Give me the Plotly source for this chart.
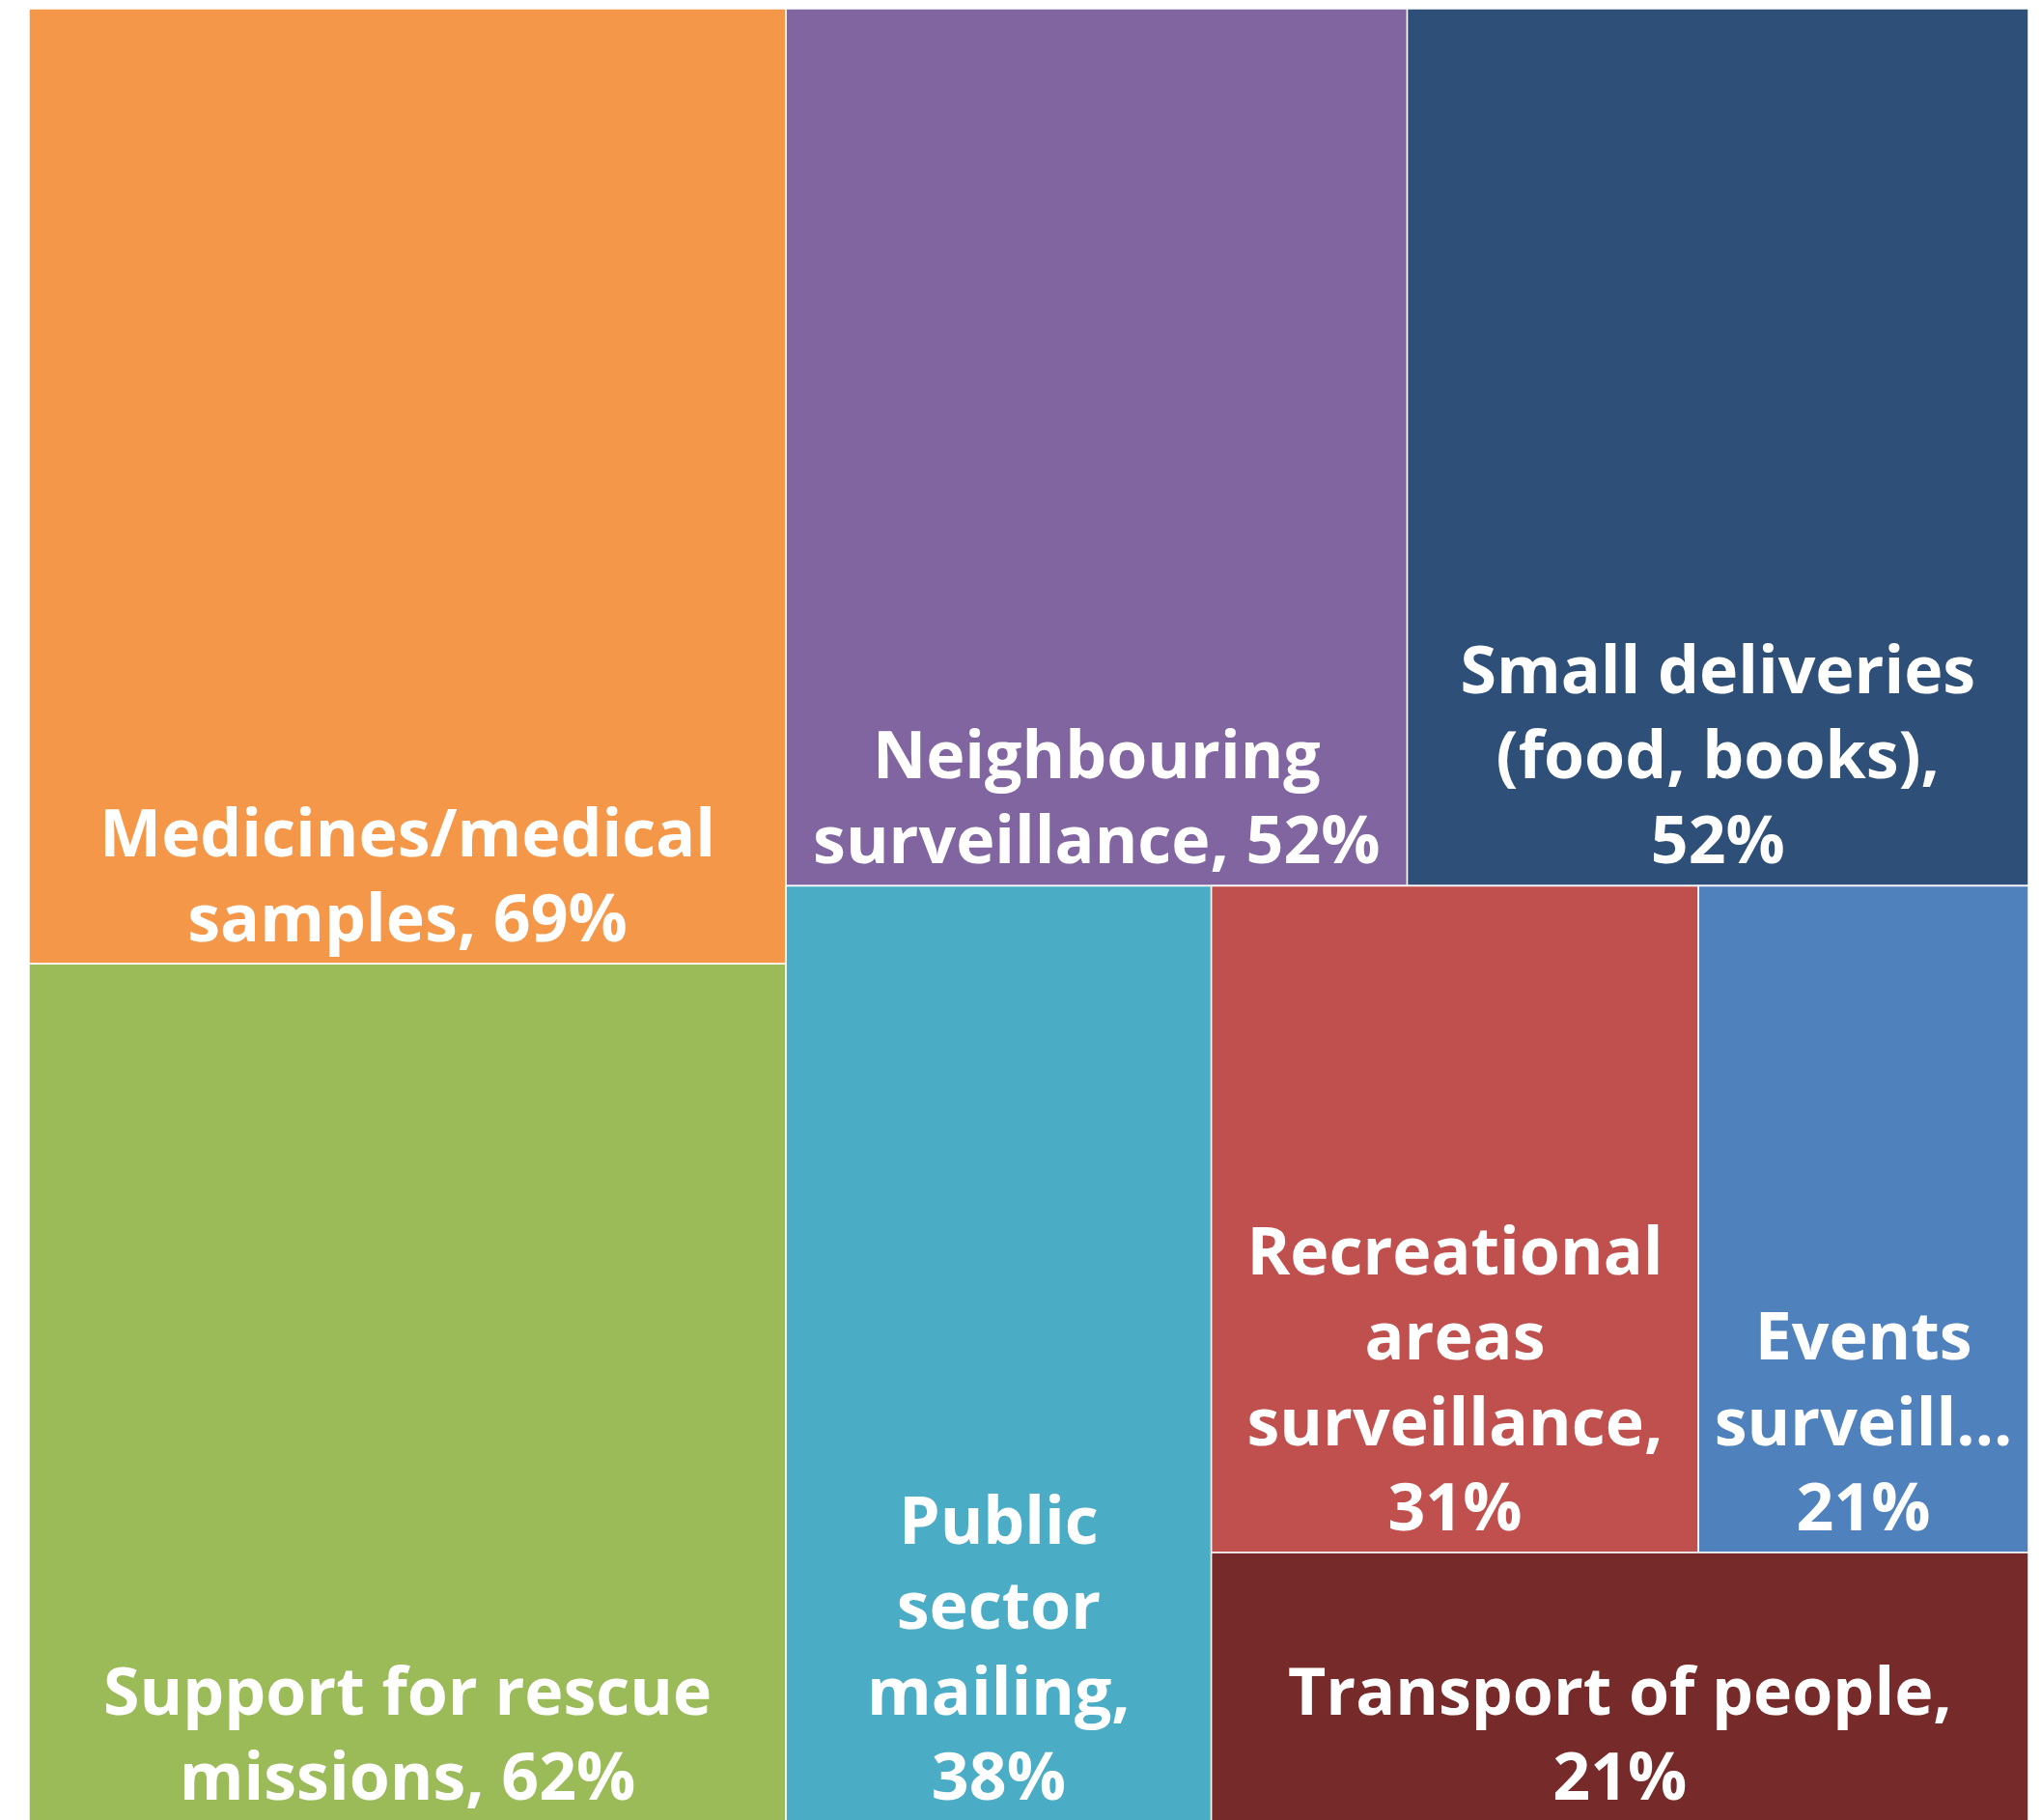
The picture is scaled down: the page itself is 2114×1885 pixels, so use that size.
import plotly.graph_objects as go

# Data (leaf categories and their shares, in %)
ids = ["med", "res", "nei", "sml", "grp_a", "pub", "grp_b", "rec", "evt", "trn"]
labels = [
    "Medicines/medical samples",
    "Support for rescue missions",
    "Neighbouring surveillance",
    "Small deliveries (food, books)",
    "",
    "Public sector mailing",
    "",
    "Recreational areas surveillance",
    "Events surveillance",
    "Transport of people",
]
parents = ["", "", "", "", "", "grp_a", "grp_a", "grp_b", "grp_b", "grp_b"]
values = [69, 62, 52, 52, 0, 38, 0, 31, 21, 21]
# label text as shown (with line breaks); value appended after
label_lines = [
    "Medicines/medical<br>samples,",
    "Support for rescue<br>missions,",
    "Neighbouring<br>surveillance,",
    "Small deliveries<br>(food, books),",
    None,
    "Public<br>sector<br>mailing,",
    None,
    "Recreational<br>areas<br>surveillance,",
    "Events<br>surveill…",
    "Transport of people,",
]
value_on_new_line = [False, False, False, True, False, True, False, True, True, True]
colors = ["#F59748", "#9BBB59", "#8065A1", "#2E4F77", "#FFFFFF",
          "#4BACC6", "#FFFFFF", "#C0504D", "#4F81BD", "#772A2A"]

display_text = [
    "" if l is None else f"{l}{'<br>' if nl else ' '}{v}%"
    for l, v, nl in zip(label_lines, values, value_on_new_line)
]

fig = go.Figure(
    go.Treemap(
        ids=ids,
        labels=labels,
        parents=parents,
        values=values,
        branchvalues="remainder",
        text=display_text,
        texttemplate="%{text}",
        textposition="bottom center",
        textfont=dict(family="Open Sans", size=68, color="white", weight="bold"),
        marker=dict(colors=colors, line=dict(color="white", width=1.5),
                    pad=dict(t=0, l=0, r=0, b=0)),
        tiling=dict(pad=0, packing="squarify"),
        pathbar=dict(visible=False),
        sort=False,
        hoverinfo="label+value",
    )
)

fig.update_layout(
    width=2114,
    height=1885,
    margin=dict(l=22, r=21, t=1, b=6),
    paper_bgcolor="white",
)

fig.write_html("out.html")
